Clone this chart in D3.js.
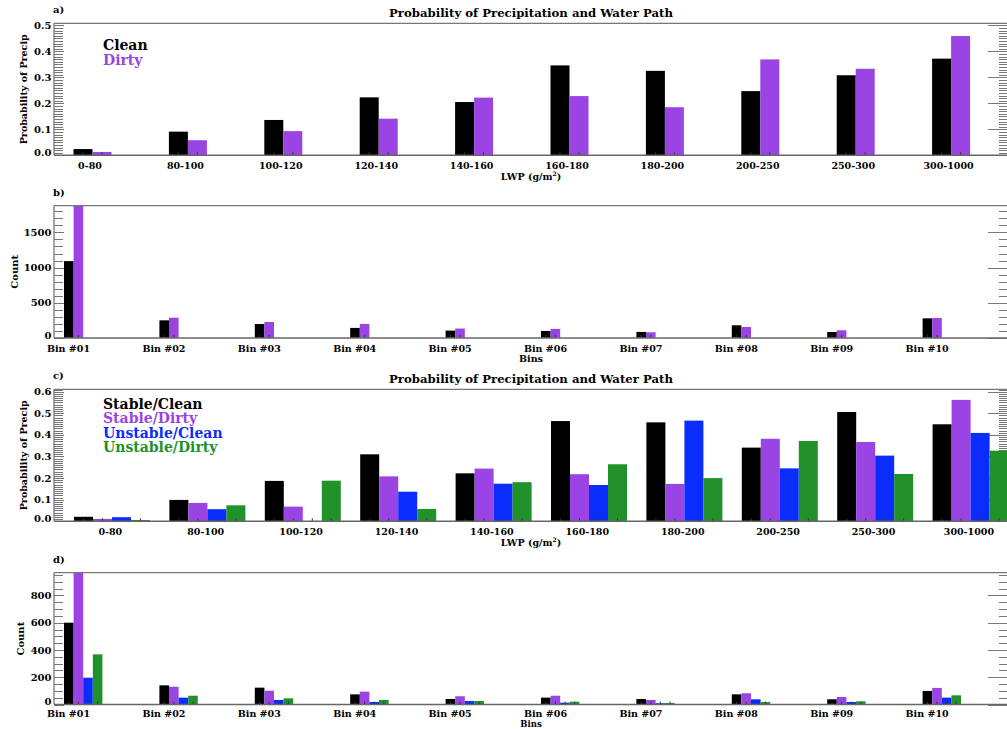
<!DOCTYPE html>
<html>
<head>
<meta charset="utf-8">
<script src="https://cdn.jsdelivr.net/npm/d3@7"></script>
<style>
  body { margin: 0; background: #fff; }
  svg { display: block; }
  text { font-family: "DejaVu Serif", serif; font-weight: bold; fill: #000; }
</style>
</head>
<body>
<svg id="chart" width="1007" height="729"></svg>
<script>
// ---- data ----
const lwpBins = ["0-80", "80-100", "100-120", "120-140", "140-160", "160-180", "180-200", "200-250", "250-300", "300-1000"];
const binLabels = ["Bin #01", "Bin #02", "Bin #03", "Bin #04", "Bin #05", "Bin #06", "Bin #07", "Bin #08", "Bin #09", "Bin #10"];

// a) probability of precipitation, clean vs dirty
const probClean = [0.024, 0.091, 0.136, 0.223, 0.205, 0.346, 0.325, 0.247, 0.308, 0.372];
const probDirty = [0.013, 0.058, 0.093, 0.141, 0.222, 0.228, 0.185, 0.369, 0.333, 0.459];

// b) sample counts, clean vs dirty
const countClean = [1092, 250, 197, 142, 104, 99, 85, 179, 84, 278];
const countDirty = [1880, 287, 226, 199, 133, 128, 80, 155, 108, 283];

// c) probability of precipitation split by stability
const probStableClean   = [0.021, 0.099, 0.187, 0.310, 0.222, 0.464, 0.458, 0.341, 0.506, 0.449];
const probStableDirty   = [0.011, 0.085, 0.068, 0.208, 0.244, 0.218, 0.173, 0.382, 0.367, 0.562];
const probUnstableClean = [0.019, 0.056, 0.000, 0.137, 0.174, 0.168, 0.466, 0.245, 0.304, 0.409];
const probUnstableDirty = [0.006, 0.074, 0.188, 0.057, 0.181, 0.264, 0.200, 0.372, 0.219, 0.327];

// d) sample counts split by stability
const countStableClean   = [600, 141, 124, 75, 41, 51, 41, 75, 39, 100];
const countStableDirty   = [966, 131, 102, 95, 61, 65, 34, 83, 56, 122];
const countUnstableClean = [197, 51, 34, 19, 26, 14, 10, 39, 19, 51];
const countUnstableDirty = [368, 65, 46, 34, 26, 21, 12, 19, 24, 68];

const pairNames = ["Clean", "Dirty"];
const quadNames = ["Stable/Clean", "Stable/Dirty", "Unstable/Clean", "Unstable/Dirty"];
const probTicks = { a: [0, 0.1, 0.2, 0.3, 0.4, 0.5], c: [0, 0.1, 0.2, 0.3, 0.4, 0.5, 0.6] };
const countTicks = { b: [0, 500, 1000, 1500], d: [0, 200, 400, 600, 800] };

const colorBlack = "#000000", colorPurple = "#9a44e4", colorBlue = "#0a2cfc", colorGreen = "#21922a";

const titleText = "Probability of Precipitation and Water Path";

// ---- layout ----
const svg = d3.select("#chart");
const frameLeft = 54, frameRight = 1008;
const groupStep = 95.4;

const panels = [
  { letter: "a)", top: 23.3, bottom: 155.3, yMax: 0.508, ticks: probTicks.a, minorStep: 0.01, fmt: d3.format(".1f"),
    cats: lwpBins, series: [probClean, probDirty], names: pairNames, colors: [colorBlack, colorPurple],
    start: 73.5, barW: 19, labelOff: 16.5, title: titleText, yLabel: "Probability of Precip", xLabel: "LWP",
    legend: true, legendBase: 27, yLabelX: 24, xTickOff: 13.7, xTitleOff: 24.3, xTitleSize: 9.5 },
  { letter: "b)", top: 205.7, bottom: 337.9, yMax: 1880, ticks: countTicks.b, minorStep: 100, fmt: d3.format("d"),
    cats: binLabels, series: [countClean, countDirty], names: pairNames, colors: [colorBlack, colorPurple],
    start: 64, barW: 9.6, labelOff: 4.5, title: null, yLabel: "Count", xLabel: "Bins", legend: false, yLabelX: 14,
    xTickOff: 13.7, xTitleOff: 24.3, xTitleSize: 9.5 },
  { letter: "c)", top: 389.3, bottom: 521.3, yMax: 0.611, ticks: probTicks.c, minorStep: 0.01, fmt: d3.format(".1f"),
    cats: lwpBins, series: [probStableClean, probStableDirty, probUnstableClean, probUnstableDirty], names: quadNames,
    colors: [colorBlack, colorPurple, colorBlue, colorGreen],
    start: 74, barW: 19, labelOff: 36.3, title: titleText, yLabel: "Probability of Precip", xLabel: "LWP",
    legend: true, legendBase: 19.5, yLabelX: 24, xTickOff: 13.7, xTitleOff: 24.3, xTitleSize: 9.5 },
  { letter: "d)", top: 572.7, bottom: 704.6, yMax: 966, ticks: countTicks.d, minorStep: 50, fmt: d3.format("d"),
    cats: binLabels, series: [countStableClean, countStableDirty, countUnstableClean, countUnstableDirty], names: quadNames,
    colors: [colorBlack, colorPurple, colorBlue, colorGreen],
    start: 64, barW: 9.6, labelOff: 4.5, title: null, yLabel: "Count", xLabel: "Bins", legend: false, yLabelX: 20,
    xTickOff: 12.6, xTitleOff: 22.6, xTitleSize: 8.5 }
];

panels.forEach(p => {
  const g = svg.append("g");
  const y = d3.scaleLinear().domain([0, p.yMax]).range([p.bottom, p.top]);
  const x = d3.scaleBand().domain(p.cats)
    .range([p.start, p.start + groupStep * p.cats.length]).paddingInner(0).paddingOuter(0);
  const xInner = d3.scaleBand().domain(p.names).range([0, p.barW * p.names.length]);

  // minor / major ticks on both vertical sides
  const minor = d3.range(0, p.yMax + 1e-9, p.minorStep);
  const isMajor = v => p.ticks.some(t => Math.abs(t - v) < p.minorStep / 10);
  const tickG = g.append("g").attr("stroke", "#777").attr("stroke-width", 1);
  minor.forEach(v => {
    const yy = Math.round(y(v)) + 0.5;
    const maj = isMajor(v);
    tickG.append("line").attr("x1", frameLeft).attr("x2", frameLeft + (maj ? 10 : 9)).attr("y1", yy).attr("y2", yy);
    tickG.append("line").attr("x1", frameRight).attr("x2", frameRight - (maj ? 20 : 9)).attr("y1", yy).attr("y2", yy);
  });

  // bars
  p.series.forEach((vals, si) => {
    g.append("g").selectAll("rect").data(vals).join("rect")
      .attr("x", (d, i) => x(p.cats[i]) + xInner(p.names[si]))
      .attr("width", xInner.bandwidth())
      .attr("y", d => y(d))
      .attr("height", d => y(0) - y(d))
      .attr("fill", p.colors[si]);
    // small axis tick at each bar centre
    g.append("g").selectAll("line").data(vals).join("line")
      .attr("x1", (d, i) => x(p.cats[i]) + xInner(p.names[si]) + xInner.bandwidth() / 2)
      .attr("x2", (d, i) => x(p.cats[i]) + xInner(p.names[si]) + xInner.bandwidth() / 2)
      .attr("y1", p.bottom).attr("y2", p.bottom - 3)
      .attr("stroke", "#333").attr("stroke-width", 1);
  });

  // frame: left, top, bottom
  g.append("line").attr("x1", frameLeft).attr("x2", frameLeft).attr("y1", p.top).attr("y2", p.bottom)
    .attr("stroke", "#777").attr("stroke-width", 1.3);
  g.append("line").attr("x1", frameLeft).attr("x2", frameRight).attr("y1", p.top).attr("y2", p.top)
    .attr("stroke", "#777").attr("stroke-width", 1.3);
  g.append("line").attr("x1", frameLeft).attr("x2", frameRight).attr("y1", p.bottom).attr("y2", p.bottom)
    .attr("stroke", "#666").attr("stroke-width", 1.5);

  // y tick labels (the zero label sits a little above its tick)
  g.append("g").selectAll("text").data(p.ticks).join("text")
    .attr("x", 51.5).attr("y", d => y(d) - (d === 0 ? 3 : 0)).attr("dy", "0.36em")
    .attr("text-anchor", "end").style("font-size", "10px")
    .text(d => p.fmt(d));

  // x tick labels
  g.append("g").selectAll("text").data(p.cats).join("text")
    .attr("x", d => x(d) + p.labelOff).attr("y", p.bottom + p.xTickOff)
    .attr("text-anchor", "middle").style("font-size", "9.5px")
    .text(d => d);

  // axis titles
  const xt = g.append("text").attr("x", (frameLeft + frameRight) / 2).attr("y", p.bottom + p.xTitleOff)
    .attr("text-anchor", "middle").style("font-size", p.xTitleSize + "px").text(p.xLabel);
  if (p.xLabel === "LWP") {
    xt.append("tspan").text(" (g/m");
    xt.append("tspan").attr("dy", -3.5).style("font-size", "6px").text("2");
    xt.append("tspan").attr("dy", 3.5).text(")");
  }
  g.append("text")
    .attr("transform", `translate(${p.yLabelX},${(p.top + p.bottom) / 2}) rotate(-90)`)
    .attr("text-anchor", "middle").attr("dy", "0.35em")
    .style("font-size", p.yLabel === "Count" ? "10px" : "9.5px")
    .text(p.yLabel);

  // panel letter and title
  g.append("text").attr("x", 53).attr("y", p.top - 10).style("font-size", "10px").text(p.letter);
  if (p.title) {
    g.append("text").attr("x", (frameLeft + frameRight) / 2).attr("y", p.top - 6.5)
      .attr("text-anchor", "middle").style("font-size", "11.7px").text(p.title);
  }

  // legend
  if (p.legend) {
    p.names.forEach((n, i) => {
      g.append("text").attr("x", 103).attr("y", p.top + p.legendBase + i * 14.4)
        .style("font-size", "14px").style("fill", p.colors[i]).text(n);
    });
  }
});
</script>
</body>
</html>
